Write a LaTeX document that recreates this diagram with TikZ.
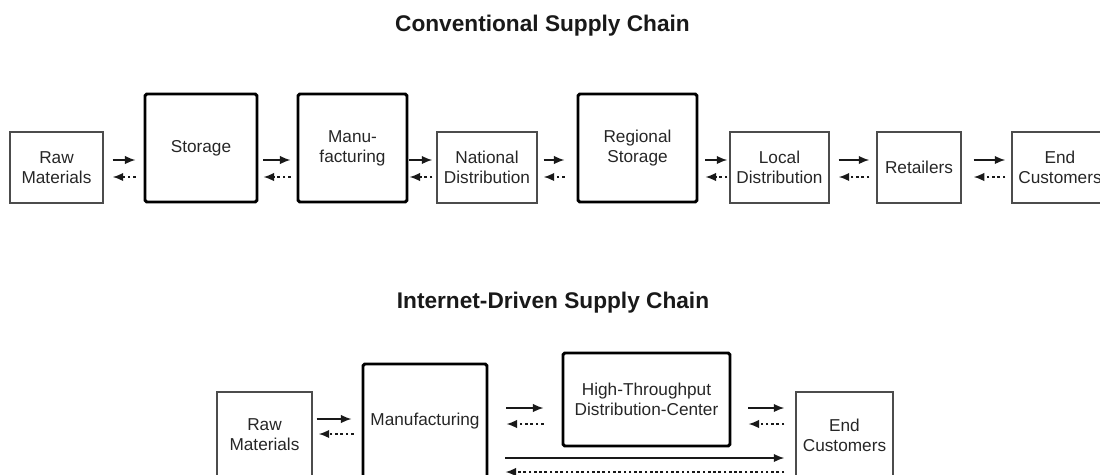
\documentclass[tikz,border=0pt]{standalone}
\usepackage{fontspec}
\setmainfont{Liberation Sans}
\usepackage{xcolor}
\usepackage{tikz}
\usetikzlibrary{arrows.meta}

\begin{document}
\begin{tikzpicture}[x=0.02cm,y=-0.02cm,font=\fontsize{9.8}{11.4}\selectfont,
  thinbox/.style={draw=black!70,line width=0.8pt,align=center,inner sep=0pt,text=black!85},
  thickbox/.style={draw=black,line width=1.7pt,rounded corners=1pt,align=center,inner sep=0pt,text=black!85},
  dims/.style 2 args={minimum width=#1*0.02cm,minimum height=#2*0.02cm},
  gap/.style 2 args={shorten <=#1*0.02cm,shorten >=#2*0.02cm},
  fwd/.style={-{Latex[length=6pt,width=4.8pt]},line width=0.9pt,black!90},
  back/.style={-{Latex[length=6pt,width=4.8pt]},line width=0.9pt,black!90,dash pattern=on 1.5pt off 1.5pt},
  title/.style={font=\fontsize{12.9}{15}\selectfont\bfseries,anchor=base,text=black!90}]
\useasboundingbox (0,0) rectangle (1100,474);
\node[title] (convTitle) at (542.5,31) {Conventional Supply Chain};
\node[thinbox,dims={93}{71}] (rawA) at (56.5,167.5) {Raw\\Materials};
\node[thickbox,dims={112}{108}] (stoA) at (201,148) {Storage};
\node[thickbox,dims={109}{108}] (manA) at (352.5,148) {Manu-\\facturing};
\node[thinbox,dims={100}{71}] (natA) at (487,167.5) {National\\Distribution};
\node[thickbox,dims={119}{108}] (regA) at (637.5,148) {Regional\\Storage};
\node[thinbox,dims={99}{71}] (locA) at (779.5,167.5) {Local\\Distribution};
\node[thinbox,dims={84}{71}] (retA) at (919,167.5) {Retailers};
\node[thinbox,dims={96}{71}] (endA) at (1060,167.5) {End\\Customers};
\coordinate (topFwd) at (0,160);
\coordinate (topBck) at (0,177);
\draw[fwd,gap={9}{8}] (rawA.east |- topFwd) -- (stoA.west |- topFwd);
\draw[back,gap={8}{9}] (stoA.west |- topBck) -- (rawA.east |- topBck);
\draw[fwd,gap={5}{6}] (stoA.east |- topFwd) -- (manA.west |- topFwd);
\draw[back,gap={6}{5}] (manA.west |- topBck) -- (stoA.east |- topBck);
\draw[fwd,gap={1}{4}] (manA.east |- topFwd) -- (natA.west |- topFwd);
\draw[back,gap={4}{1}] (natA.west |- topBck) -- (manA.east |- topBck);
\draw[fwd,gap={6}{12}] (natA.east |- topFwd) -- (regA.west |- topFwd);
\draw[back,gap={12}{6}] (regA.west |- topBck) -- (natA.east |- topBck);
\draw[fwd,gap={7}{2}] (regA.east |- topFwd) -- (locA.west |- topFwd);
\draw[back,gap={2}{7}] (locA.west |- topBck) -- (regA.east |- topBck);
\draw[fwd,gap={9}{7}] (locA.east |- topFwd) -- (retA.west |- topFwd);
\draw[back,gap={7}{9}] (retA.west |- topBck) -- (locA.east |- topBck);
\draw[fwd,gap={12}{6}] (retA.east |- topFwd) -- (endA.west |- topFwd);
\draw[back,gap={6}{12}] (endA.west |- topBck) -- (retA.east |- topBck);
\node[title] (netTitle) at (553,308) {Internet-Driven Supply Chain};
\node[thinbox,dims={95}{86}] (rawB) at (264.5,435) {Raw\\Materials};
\node[thickbox,dims={124}{114}] (manB) at (425,421) {Manufacturing};
\node[thickbox,dims={167}{93}] (htdc) at (646.5,399.5) {High-Throughput\\Distribution-Center};
\node[thinbox,dims={97}{86}] (endB) at (844.5,435) {End\\Customers};
\coordinate (rawFwd) at (0,419);
\coordinate (rawBck) at (0,434);
\coordinate (midFwd) at (0,408);
\coordinate (midBck) at (0,424);
\coordinate (longFwd) at (0,458);
\coordinate (longBck) at (0,472);
\draw[fwd,gap={4}{10}] (rawB.east |- rawFwd) -- (manB.west |- rawFwd);
\draw[back,gap={8}{6}] (manB.west |- rawBck) -- (rawB.east |- rawBck);
\draw[fwd,gap={18}{18}] (manB.east |- midFwd) -- (htdc.west |- midFwd);
\draw[back,gap={18}{18}] (htdc.west |- midBck) -- (manB.east |- midBck);
\draw[fwd,gap={17}{11}] (htdc.east |- midFwd) -- (endB.west |- midFwd);
\draw[back,gap={11}{17}] (endB.west |- midBck) -- (htdc.east |- midBck);
\draw[fwd,gap={17}{11}] (manB.east |- longFwd) -- (endB.west |- longFwd);
\draw[back,gap={11}{17}] (endB.west |- longBck) -- (manB.east |- longBck);
\end{tikzpicture}
\end{document}
